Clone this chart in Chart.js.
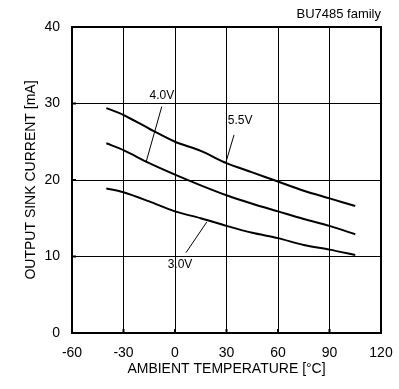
<!DOCTYPE html>
<html>
<head>
<meta charset="utf-8">
<script src="https://cdn.jsdelivr.net/npm/chart.js@4.4.1/dist/chart.umd.min.js"></script>
<style>
  html, body { margin: 0; padding: 0; background: #fff; }
  #wrap { width: 399px; height: 389px; }
</style>
</head>
<body>
<div id="wrap"><canvas id="sinkChart"></canvas></div>
<script>
// ambient temperature (°C)
const temps = [-40, -30, -15, 0, 15, 30, 45, 60, 75, 90, 105];
// output sink current (mA)
const sink55 = [29.4, 28.5, 26.7, 25.0, 23.8, 22.2, 21.0, 19.8, 18.6, 17.6, 16.6];
const sink40 = [24.8, 23.9, 22.2, 20.7, 19.3, 18.0, 16.9, 15.9, 14.9, 14.0, 12.9];
const sink30 = [18.9, 18.4, 17.2, 15.9, 15.0, 14.0, 13.1, 12.4, 11.5, 10.9, 10.2];
const xTicks = [-60, -30, 0, 30, 60, 90, 120];
const yTicks = [0, 10, 20, 30, 40];

// curve labels with leader lines, in data units
const labels = [
    { text: '4.0V', x: -7.6, y: 31.0, from: [-7.7, 29.6], to: [-16.9, 22.3] },
    { text: '5.5V', x: 37.9, y: 27.7, from: [34.4, 25.9], to: [29.5, 22.2] },
    { text: '3.0V', x: 2.9, y: 8.9, from: [6.4, 10.5], to: [18.5, 14.5] },
];

const FONT = 'Liberation Sans, Arial, sans-serif';

const pts = (ys) => temps.map((t, i) => ({ x: t, y: ys[i] }));

const line = (label, ys) => ({
    label,
    data: pts(ys),
    borderColor: '#000',
    borderWidth: 2,
    pointRadius: 0,
    tension: 0.3,
    fill: false,
});

const decor = {
    id: 'decor',
    afterDraw(chart) {
        const { ctx, chartArea: a, scales: { x, y } } = chart;
        ctx.save();
        // frame
        ctx.strokeStyle = '#000';
        ctx.lineWidth = 2;
        ctx.strokeRect(a.left, a.top, a.right - a.left, a.bottom - a.top);
        // short inward ticks
        yTicks.forEach((v) => {
            const py = y.getPixelForValue(v);
            ctx.beginPath(); ctx.moveTo(a.left, py); ctx.lineTo(a.left + 4, py); ctx.stroke();
        });
        xTicks.forEach((v) => {
            const px = x.getPixelForValue(v);
            ctx.beginPath(); ctx.moveTo(px, a.bottom); ctx.lineTo(px, a.bottom - 4); ctx.stroke();
        });
        // curve labels
        ctx.lineWidth = 1;
        ctx.fillStyle = '#000';
        ctx.font = '12px ' + FONT;
        ctx.textAlign = 'center';
        ctx.textBaseline = 'middle';
        labels.forEach((l) => {
            ctx.beginPath();
            ctx.moveTo(x.getPixelForValue(l.from[0]), y.getPixelForValue(l.from[1]));
            ctx.lineTo(x.getPixelForValue(l.to[0]), y.getPixelForValue(l.to[1]));
            ctx.stroke();
            ctx.fillText(l.text, x.getPixelForValue(l.x), y.getPixelForValue(l.y));
        });
        // family note
        ctx.font = '13px ' + FONT;
        ctx.textAlign = 'right';
        ctx.textBaseline = 'alphabetic';
        ctx.fillText('BU7485 family', a.right, a.top - 9);
        ctx.restore();
    },
};

new Chart(document.getElementById('sinkChart'), {
    type: 'line',
    data: {
        datasets: [line('5.5V', sink55), line('4.0V', sink40), line('3.0V', sink30)],
    },
    options: {
        responsive: true,
        maintainAspectRatio: false,
        animation: false,
        layout: { padding: { left: 0, right: 18, top: 27, bottom: 0 } },
        plugins: { legend: { display: false }, tooltip: { enabled: false } },
        scales: {
            x: {
                type: 'linear',
                min: -60,
                max: 120,
                afterBuildTicks: (s) => { s.ticks = xTicks.map((v) => ({ value: v })); },
                afterFit: (s) => { s.height = 56; s.paddingLeft = 0; s.paddingRight = 0; },
                grid: { color: '#000', lineWidth: 1, drawTicks: false },
                border: { display: false },
                ticks: { color: '#000', padding: 12, font: { size: 14, family: FONT } },
                title: {
                    display: true,
                    text: 'AMBIENT TEMPERATURE [°C]',
                    color: '#000',
                    font: { size: 14, family: FONT },
                    padding: { top: 2, bottom: 11 },
                },
            },
            y: {
                min: 0,
                max: 40,
                afterBuildTicks: (s) => { s.ticks = yTicks.map((v) => ({ value: v })); },
                afterFit: (s) => { s.width = 72; s.paddingTop = 0; s.paddingBottom = 0; },
                grid: { color: '#000', lineWidth: 1, drawTicks: false },
                border: { display: false },
                ticks: { color: '#000', padding: 12, font: { size: 14, family: FONT } },
                title: {
                    display: true,
                    text: 'OUTPUT SINK CURRENT [mA]',
                    color: '#000',
                    font: { size: 14, family: FONT },
                    padding: { top: 23, bottom: 0 },
                },
            },
        },
    },
    plugins: [decor],
});
</script>
</body>
</html>
